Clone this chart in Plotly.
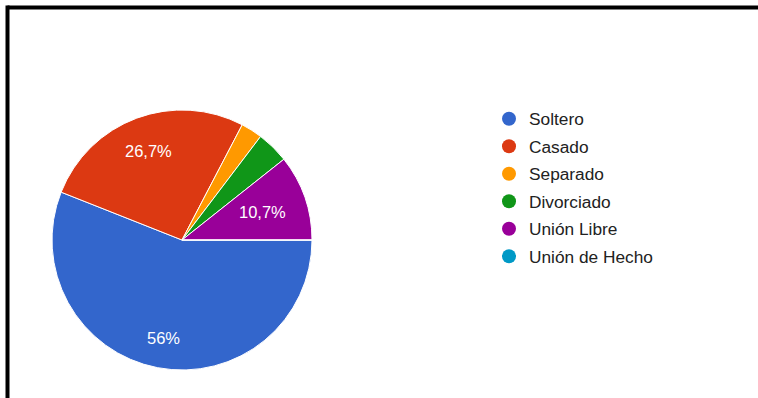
import math
import plotly.graph_objects as go

# Estado civil de los encuestados (número de respuestas)
estados = ["Soltero", "Casado", "Separado", "Divorciado", "Unión Libre", "Unión de Hecho"]
respuestas = [42, 20, 2, 3, 8, 0]
colores = ["#3366cc", "#dc3912", "#ff9900", "#109618", "#990099", "#0099c6"]

FUENTE = "Arial, Liberation Sans, sans-serif"
ANCHO, ALTO = 758, 398

# Geometría del gráfico circular (píxeles)
CX, CY, R = 182, 240, 130
TAM_ETIQUETA = 16.5

total = sum(respuestas)


def etiqueta(v):
    """Porcentaje con coma decimal; las porciones pequeñas quedan sin texto."""
    p = 100 * v / total
    if p < 5:
        return ""
    s = f"{p:.1f}".rstrip("0").rstrip(".")
    return s.replace(".", ",") + "%"


def ancho_texto(s, tam):
    """Ancho aproximado del texto en Arial."""
    anchos = {",": 0.278, "%": 0.889}
    return sum(anchos.get(c, 0.556) for c in s) * tam


textos = [etiqueta(v) for v in respuestas]

fig = go.Figure()

fig.add_trace(go.Pie(
    labels=estados,
    values=respuestas,
    sort=False,
    direction="clockwise",
    rotation=90,
    textinfo="none",
    marker=dict(colors=colores, line=dict(color="white", width=1)),
    domain=dict(x=[(CX - R) / ANCHO, (CX + R) / ANCHO],
                y=[1 - (CY + R) / ALTO, 1 - (CY - R) / ALTO]),
    showlegend=False,
    hoverinfo="label+percent",
))

# Etiquetas de porcentaje: el borde exterior del texto queda a 0,84 R del centro
anotaciones = []
acumulado = 0
for v, t in zip(respuestas, textos):
    medio = (acumulado + v / 2) / total * 2 * math.pi  # horario desde las 3
    acumulado += v
    if not t:
        continue
    ux, uy = math.cos(medio), math.sin(medio)
    w, h = ancho_texto(t, TAM_ETIQUETA), TAM_ETIQUETA * 0.75
    r = 0.84 * R - (abs(ux) * w / 2 + abs(uy) * h / 2)
    anotaciones.append(dict(
        x=(CX + r * ux) / ANCHO, y=1 - (CY + r * uy) / ALTO,
        xref="paper", yref="paper", xanchor="center", yanchor="middle",
        text=t, showarrow=False,
        font=dict(family=FUENTE, size=TAM_ETIQUETA, color="white"),
    ))

# Leyenda con marcadores circulares
for nombre, color in zip(estados, colores):
    fig.add_trace(go.Scatter(
        x=[None], y=[None],
        mode="markers",
        name=nombre,
        legendgroup=nombre,
        marker=dict(symbol="circle", size=14, color=color),
        hoverinfo="skip",
    ))

fig.update_layout(
    width=ANCHO,
    height=ALTO,
    margin=dict(l=0, r=0, t=0, b=0),
    paper_bgcolor="white",
    plot_bgcolor="white",
    xaxis=dict(visible=False),
    yaxis=dict(visible=False),
    annotations=anotaciones,
    legend=dict(
        x=489 / ANCHO, y=1 - 101 / ALTO,
        xanchor="left", yanchor="top",
        font=dict(family=FUENTE, size=17.3, color="#222222"),
        traceorder="grouped",
        tracegroupgap=2,
        itemwidth=30,
        bgcolor="rgba(0,0,0,0)",
    ),
    shapes=[
        # Marco negro superior e izquierdo
        dict(type="line", xref="paper", yref="paper",
             x0=7.5 / ANCHO, x1=1.02, y0=1 - 7.5 / ALTO, y1=1 - 7.5 / ALTO,
             line=dict(color="black", width=4)),
        dict(type="line", xref="paper", yref="paper",
             x0=7.5 / ANCHO, x1=7.5 / ANCHO, y0=-0.02, y1=1 - 5.5 / ALTO,
             line=dict(color="black", width=4)),
    ],
)

fig.write_html("out.html")
